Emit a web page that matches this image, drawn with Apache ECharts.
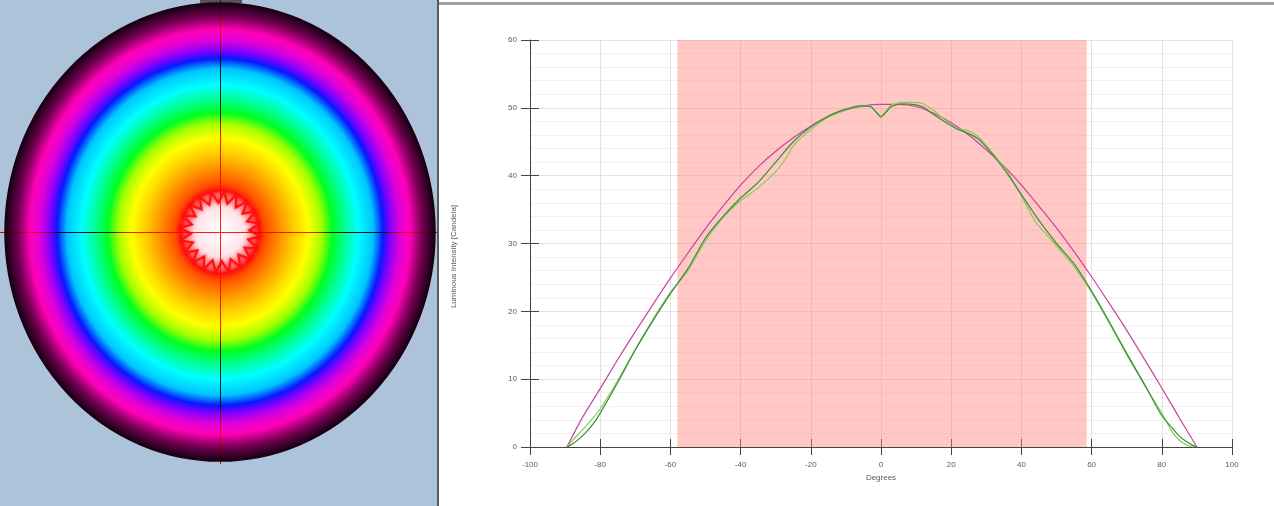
<!DOCTYPE html>
<html>
<head>
<meta charset="utf-8">
<script src="https://cdn.jsdelivr.net/npm/echarts@6/dist/echarts.min.js"></script>
<style>
html,body{margin:0;padding:0;background:#fff;}
#chart{width:1274px;height:506px;}
</style>
</head>
<body>
<div id="chart"></div>
<script>
// ---- Data: luminous intensity curves (degrees -> candela) ----
const magentaDeg = [-89.5,-85,-80,-75,-70,-65,-60,-55,-50,-45,-40,-35,-30,-25,-20,-15,-10,-5,0,5,10,15,20,25,30,35,40,45,50,55,60,65,70,75,80,85,90];
const magentaVal = [0,4.4,8.6,12.9,17.0,21.0,24.9,28.6,32.2,35.5,38.6,41.3,43.6,45.6,47.3,48.7,49.7,50.3,50.5,50.5,50.2,49.2,47.8,46.0,43.8,41.4,38.6,35.5,32.3,28.8,25.1,21.2,17.2,13.0,8.7,4.3,0];

const darkGreenDeg = [-89.3,-88,-86,-84,-82,-80,-75,-70,-65,-60,-55,-50,-45,-40,-35,-30,-25,-20,-15,-10,-6,-3,-1.5,0,1.5,3,6,9,12,15,18,22,25,28,32,36,40,45,50,55,60,65,70,75,80,83,85,87,89,90];
const darkGreenVal = [0,0.4,1.2,2.2,3.4,5.0,9.5,14.3,18.6,22.6,26.3,30.8,34.0,36.7,39.0,42.0,45.0,47.2,48.8,49.8,50.3,50.2,49.4,48.6,49.4,50.2,50.6,50.5,50.1,49.0,48.0,46.8,46.2,45.3,43.0,40.3,37.2,33.4,30.0,27.0,23.0,18.5,13.8,9.3,4.6,2.8,1.6,0.8,0.2,0];

const lightGreenDeg = [-89.3,-88,-86,-84,-82,-80,-75,-70,-65,-60,-55,-50,-45,-40,-35,-30,-27,-25,-20,-15,-10,-6,-3,-1.5,0,1.5,3,6,9,12,15,18,22,25,28,32,36,40,44,47,50,55,60,65,70,75,80,83,85,87,89];
const lightGreenVal = [0,0.9,2.0,3.1,4.3,5.6,9.8,14.4,18.8,22.8,26.0,30.4,33.8,36.3,38.2,40.6,42.6,44.4,46.8,48.6,49.7,50.2,50.3,49.5,48.8,49.6,50.4,50.8,50.8,50.6,49.6,48.3,46.9,46.6,45.6,43.2,40.6,37.0,33.2,31.4,29.6,26.6,22.8,18.3,13.6,9.2,5.0,2.2,1.0,0.3,0];

const highlightRange = [-58, 58.6];   // shaded region (degrees)

// ---- Left panel: false-colour intensity map ----
const ringStops  = [0,0.1,0.15,0.18,0.21,0.28,0.35,0.41,0.47,0.52,0.58,0.64,0.71,0.755,0.79,0.835,0.88,0.94,1];
const ringColors = ['#ffffff','#ffecec','#ffc0c0','#ff1010','#ff5000','#ff9400','#ffd400','#ffff00','#a8ff00','#00ff20','#00ff98','#00ffff','#00c4ff','#0818ff','#8400ff','#e000d8','#ff00b8','#70004e','#100010'];
const mapCenter = [220, 232];
const mapRadiusX = 215, mapRadiusY = 229;
const starSpikes = 20, starOuter = 40, starInner = 29;

const toPairs = (xs, ys) => xs.map((x, i) => [x, ys[i]]);

const starPoints = [];
for (let i = 0; i < starSpikes * 2; i++) {
  const r = i % 2 === 0 ? starOuter : starInner;
  const a = Math.PI * i / starSpikes + 0.1;
  starPoints.push([mapCenter[0] + r * Math.cos(a), mapCenter[1] + r * Math.sin(a)]);
}

const chart = echarts.init(document.getElementById('chart'), null, {renderer: 'canvas'});

const labelStyle = {color: '#5a5a5a', fontSize: 8, fontFamily: 'Liberation Sans, Arial, sans-serif'};

const option = {
  backgroundColor: '#ffffff',
  animation: false,
  graphic: [
    {type: 'rect', shape: {x: 0, y: 0, width: 438, height: 506}, style: {fill: '#adc3d9'}, z: 0},
    {type: 'rect', shape: {x: 200, y: 0, width: 42, height: 3}, style: {fill: '#555'}, z: 1},
    {type: 'circle', shape: {cx: mapCenter[0], cy: mapCenter[1], r: mapRadiusX},
      originX: mapCenter[0], originY: mapCenter[1], scaleY: mapRadiusY / mapRadiusX,
      style: {
        fill: {type: 'radial', x: 0.5, y: 0.5, r: 0.5,
          colorStops: ringStops.map((s, i) => ({offset: s, color: ringColors[i]}))},
        stroke: '#1a0010', lineWidth: 1.5
      }, z: 2},
    {type: 'polygon', shape: {points: starPoints},
      style: {
        fill: {type: 'radial', x: 0.5, y: 0.5, r: 0.5,
          colorStops: [{offset: 0, color: '#ffffff'}, {offset: 0.6, color: '#ffe4e8'}, {offset: 1, color: '#ffb4bc'}]},
        stroke: '#ff1010', lineWidth: 2, shadowBlur: 4, shadowColor: '#ff0000'
      }, z: 3},
    {type: 'line', shape: {x1: 220.5, y1: 0, x2: 220.5, y2: 464},
      style: {stroke: '#ff1a1a', lineWidth: 1, blend: 'multiply'}, z: 4},
    {type: 'line', shape: {x1: 0, y1: 232.5, x2: 438, y2: 232.5},
      style: {stroke: '#ff1a1a', lineWidth: 1, blend: 'multiply'}, z: 4},
    {type: 'rect', shape: {x: 437, y: 0, width: 2, height: 506}, style: {fill: '#5a5a5a'}, z: 5},
    {type: 'rect', shape: {x: 439, y: 2, width: 835, height: 3}, style: {fill: '#a0a0a0'}, z: 5}
  ],
  grid: {left: 530, right: 42, top: 40, bottom: 59, containLabel: false},
  xAxis: [
    {type: 'value', min: -100, max: 100, interval: 20, position: 'bottom',
      name: 'Degrees', nameLocation: 'middle', nameGap: 15,
      nameTextStyle: labelStyle,
      axisLine: {show: true, onZero: false, lineStyle: {color: '#444', width: 1}},
      axisTick: {show: true, inside: false, length: 8, lineStyle: {color: '#444'}},
      axisLabel: Object.assign({margin: 14}, labelStyle),
      splitLine: {show: true, lineStyle: {color: '#e2e2e2', width: 1}}},
    {type: 'value', min: -100, max: 100, interval: 20, position: 'bottom',
      axisLine: {show: false, onZero: false},
      axisTick: {show: true, inside: true, length: 8, lineStyle: {color: '#444'}},
      axisLabel: {show: false}, splitLine: {show: false}}
  ],
  yAxis: [
    {type: 'value', min: 0, max: 60, interval: 10, position: 'left',
      name: 'Luminous Intensity [Candela]', nameLocation: 'middle', nameGap: 72,
      nameTextStyle: Object.assign({padding: [0, 26, 0, 0]}, labelStyle),
      axisLine: {show: true, onZero: false, lineStyle: {color: '#444', width: 1}},
      axisTick: {show: true, inside: false, length: 9, lineStyle: {color: '#444'}},
      axisLabel: Object.assign({margin: 13}, labelStyle),
      splitLine: {show: true, lineStyle: {color: '#e2e2e2', width: 1}},
      minorTick: {show: false, splitNumber: 5},
      minorSplitLine: {show: true, lineStyle: {color: '#f2f2f2', width: 1}}},
    {type: 'value', min: 0, max: 60, interval: 10, position: 'left',
      axisLine: {show: false, onZero: false},
      axisTick: {show: true, inside: true, length: 9, lineStyle: {color: '#444'}},
      axisLabel: {show: false}, splitLine: {show: false}}
  ],
  series: [
    {type: 'line', data: [], z: 1, silent: true,
      markArea: {silent: true, itemStyle: {color: 'rgba(255,133,124,0.45)'},
        data: [[{xAxis: highlightRange[0], yAxis: 0}, {xAxis: highlightRange[1], yAxis: 60}]]}},
    {name: 'magenta', type: 'line', data: toPairs(magentaDeg, magentaVal), z: 3,
      showSymbol: false, smooth: 0.3, lineStyle: {color: '#c8449e', width: 1.2}},
    {name: 'lightGreen', type: 'line', data: toPairs(lightGreenDeg, lightGreenVal), z: 3,
      showSymbol: false, smooth: 0.2, lineStyle: {color: '#86cc58', width: 1.2}},
    {name: 'darkGreen', type: 'line', data: toPairs(darkGreenDeg, darkGreenVal), z: 4,
      showSymbol: false, smooth: 0.2, lineStyle: {color: '#3a8e3c', width: 1.2}}
  ]
};
chart.setOption(option);
</script>
</body>
</html>
